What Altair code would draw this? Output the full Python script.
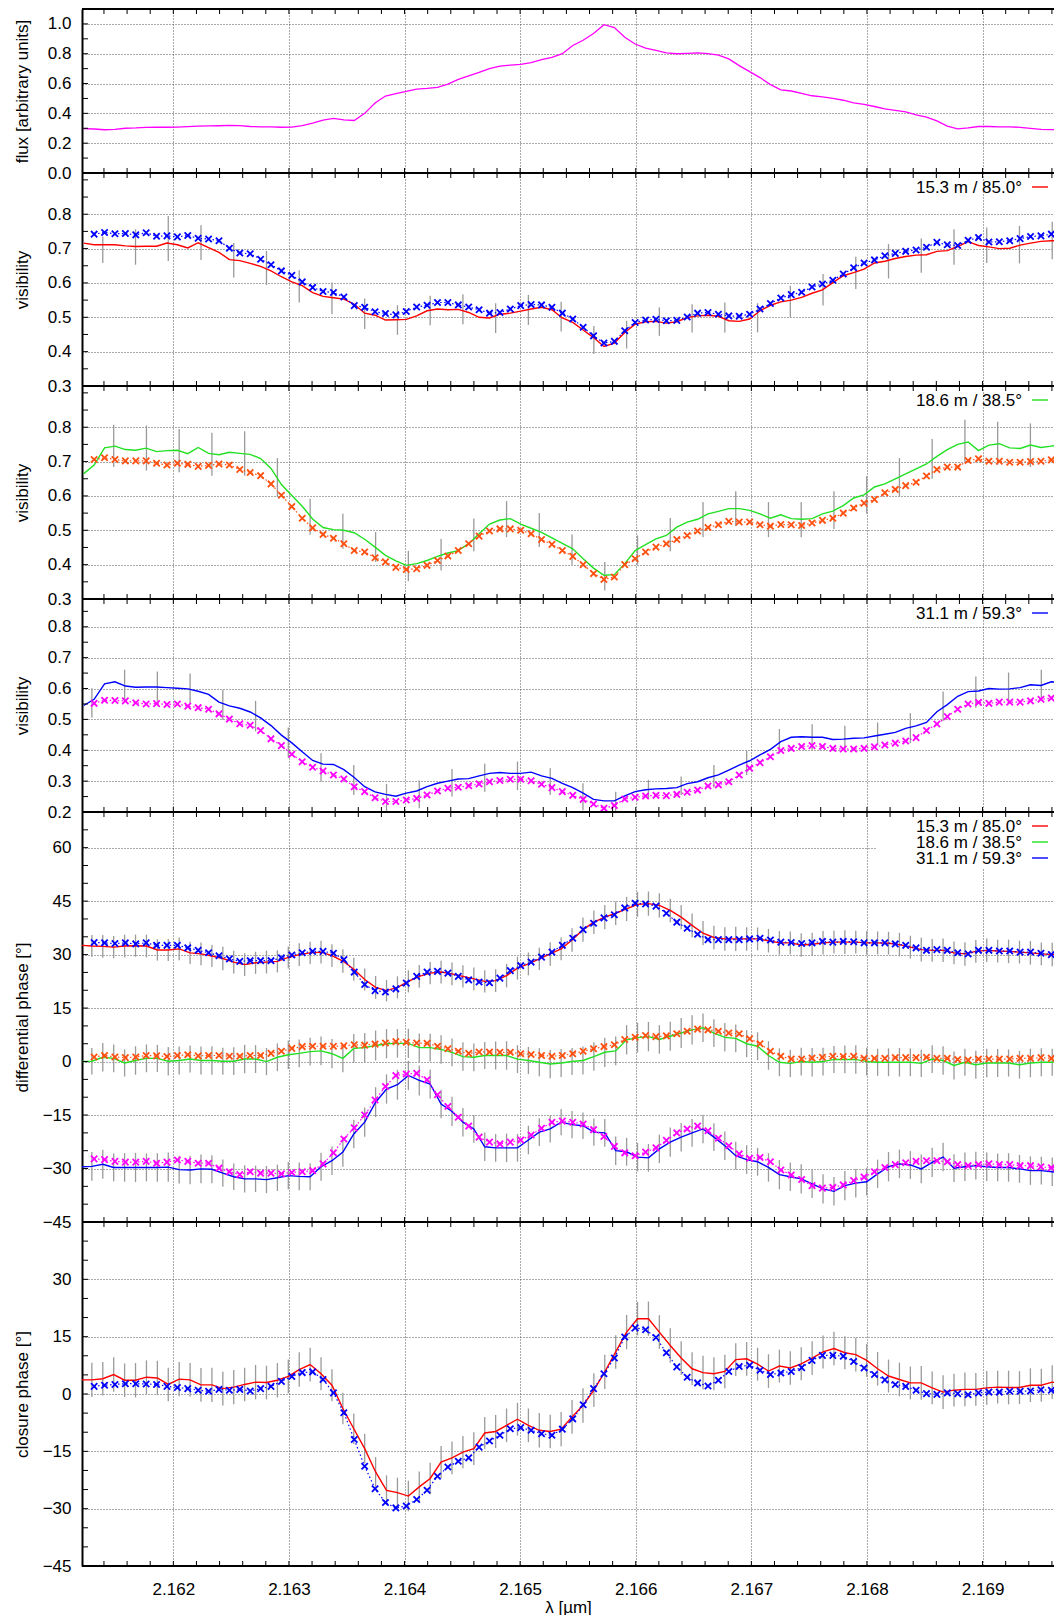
import altair as alt
import pandas as pd

FONT = "Liberation Sans"
W = 972
XDOM = [2.16121, 2.169618]
HEIGHTS = [164, 213, 213, 213, 410, 344]

RED = "#ff0000"
BLUE = "#0000ff"
GREEN = "#22e022"
ORANGE = "#ff5010"
MAGENTA = "#ff00ff"
GRAY = "#9a9a9a"
CROSS = "M-1,-1L1,1M-1,1L1,-1"

# ---------------- wavelength grids (µm) ----------------
lam_model = [round(2.161315 + 0.00009 * i, 6) for i in range(94)]      # model (crosses)
lam_line = [2.161225] + lam_model                                        # spectrum / visibility lines
lam_obs = [round(2.161201 + 0.0000944 * j, 7) for j in range(91)]       # observed phases

x_major = [2.162, 2.163, 2.164, 2.165, 2.166, 2.167, 2.168, 2.169]
x_minor = [round(2.1614 + 0.0002 * k, 4) for k in range(42)]

# ---------------- flux ----------------
flux = [0.298,
        0.295, 0.29, 0.292, 0.30, 0.302, 0.306, 0.307, 0.307, 0.308, 0.311, 0.315, 0.316, 0.317, 0.319, 0.318,
        0.312, 0.31, 0.309, 0.307, 0.308, 0.318, 0.335, 0.355, 0.366, 0.357, 0.352, 0.40, 0.47, 0.516, 0.533,
        0.548, 0.563, 0.567, 0.575, 0.596, 0.628, 0.652, 0.675, 0.70, 0.717, 0.724, 0.728, 0.74, 0.76, 0.775,
        0.80, 0.855, 0.89, 0.935, 0.995, 0.975, 0.91, 0.865, 0.838, 0.822, 0.806, 0.80, 0.803, 0.806, 0.80,
        0.79, 0.765, 0.72, 0.68, 0.64, 0.593, 0.558, 0.55, 0.534, 0.518, 0.511, 0.50, 0.488, 0.47, 0.46,
        0.446, 0.43, 0.42, 0.41, 0.39, 0.375, 0.35, 0.315, 0.296, 0.302, 0.312, 0.312, 0.31, 0.31, 0.306,
        0.30, 0.292, 0.291, 0.291]

# ---------------- visibility 15.3 m / 85.0° ----------------
vis1_obs = [0.716,
            0.711, 0.711, 0.711, 0.708, 0.706, 0.707, 0.707, 0.716, 0.711, 0.702, 0.717, 0.703, 0.689, 0.668, 0.665,
            0.657, 0.648, 0.635, 0.618, 0.603, 0.592, 0.572, 0.561, 0.557, 0.553, 0.538, 0.512, 0.506, 0.492, 0.493,
            0.494, 0.504, 0.519, 0.524, 0.522, 0.523, 0.514, 0.50, 0.498, 0.509, 0.512, 0.518, 0.524, 0.529, 0.522,
            0.498, 0.485, 0.463, 0.441, 0.415, 0.425, 0.456, 0.480, 0.487, 0.488, 0.483, 0.487, 0.499, 0.504, 0.506,
            0.503, 0.490, 0.488, 0.495, 0.519, 0.535, 0.545, 0.550, 0.558, 0.570, 0.580, 0.601, 0.621, 0.630, 0.640,
            0.658, 0.663, 0.671, 0.677, 0.681, 0.682, 0.692, 0.694, 0.706, 0.720, 0.709, 0.705, 0.700, 0.701, 0.710,
            0.716, 0.721, 0.723, 0.722]
vis1_mod = [0.742, 0.747, 0.743, 0.744, 0.740, 0.746, 0.736, 0.737, 0.734, 0.738, 0.730, 0.728, 0.723, 0.701, 0.687,
            0.685, 0.669, 0.653, 0.635, 0.622, 0.603, 0.587, 0.575, 0.572, 0.559, 0.534, 0.529, 0.516, 0.511, 0.507,
            0.517, 0.530, 0.535, 0.543, 0.543, 0.536, 0.530, 0.522, 0.512, 0.514, 0.524, 0.534, 0.537, 0.536, 0.529,
            0.512, 0.495, 0.471, 0.446, 0.425, 0.430, 0.461, 0.485, 0.492, 0.494, 0.490, 0.491, 0.501, 0.512, 0.514,
            0.509, 0.504, 0.503, 0.509, 0.524, 0.540, 0.556, 0.566, 0.573, 0.588, 0.597, 0.608, 0.626, 0.644, 0.658,
            0.667, 0.679, 0.686, 0.692, 0.696, 0.704, 0.718, 0.711, 0.709, 0.724, 0.732, 0.719, 0.720, 0.723, 0.729,
            0.735, 0.737, 0.742, 0.740]
vis1_lo = [0.658, 0.653, 0.664, 0.667, 0.616, 0.594, 0.543, 0.509, 0.466, 0.449, 0.477, 0.480, 0.454, 0.478, 0.459,
           0.393, 0.409, 0.446, 0.456, 0.456, 0.456, 0.500, 0.534, 0.582, 0.613, 0.630, 0.653, 0.658, 0.657, 0.669]
vis1_hi = [0.735, 0.756, 0.795, 0.768, 0.716, 0.693, 0.637, 0.601, 0.555, 0.535, 0.563, 0.567, 0.541, 0.565, 0.545,
           0.475, 0.490, 0.529, 0.538, 0.543, 0.541, 0.592, 0.626, 0.676, 0.713, 0.729, 0.756, 0.761, 0.766, 0.778]

# ---------------- visibility 18.6 m / 38.5° ----------------
vis2_obs = [0.665,
            0.69, 0.74, 0.745, 0.735, 0.733, 0.739, 0.729, 0.732, 0.733, 0.723, 0.741, 0.724, 0.720, 0.727, 0.724,
            0.721, 0.709, 0.680, 0.633, 0.601, 0.570, 0.533, 0.508, 0.502, 0.50, 0.493, 0.474, 0.451, 0.427, 0.411,
            0.398, 0.403, 0.412, 0.424, 0.434, 0.441, 0.461, 0.49, 0.518, 0.530, 0.534, 0.518, 0.506, 0.494, 0.478,
            0.462, 0.446, 0.417, 0.390, 0.369, 0.371, 0.403, 0.441, 0.458, 0.475, 0.485, 0.509, 0.524, 0.532, 0.548,
            0.555, 0.563, 0.563, 0.558, 0.548, 0.535, 0.545, 0.534, 0.532, 0.534, 0.548, 0.556, 0.572, 0.594, 0.603,
            0.626, 0.635, 0.650, 0.664, 0.679, 0.693, 0.715, 0.735, 0.750, 0.757, 0.732, 0.748, 0.752, 0.740, 0.738,
            0.748, 0.741, 0.745, 0.749]
vis2_mod = [0.706, 0.711, 0.706, 0.702, 0.702, 0.702, 0.695, 0.690, 0.695, 0.692, 0.686, 0.689, 0.693, 0.690, 0.677,
            0.668, 0.659, 0.635, 0.602, 0.569, 0.535, 0.507, 0.488, 0.477, 0.461, 0.441, 0.437, 0.420, 0.408, 0.392,
            0.386, 0.388, 0.398, 0.412, 0.425, 0.441, 0.461, 0.483, 0.498, 0.504, 0.504, 0.50, 0.49, 0.473, 0.459,
            0.441, 0.424, 0.40, 0.374, 0.357, 0.364, 0.40, 0.417, 0.437, 0.451, 0.461, 0.473, 0.485, 0.498, 0.508,
            0.516, 0.526, 0.524, 0.524, 0.516, 0.512, 0.517, 0.516, 0.514, 0.521, 0.529, 0.535, 0.550, 0.565, 0.579,
            0.590, 0.609, 0.619, 0.630, 0.640, 0.658, 0.677, 0.684, 0.684, 0.703, 0.708, 0.701, 0.701, 0.698, 0.698,
            0.70, 0.701, 0.705, 0.703]
vis2_lo = [0.684, 0.674, 0.669, 0.659, 0.659, 0.597, 0.487, 0.446, 0.408, 0.352, 0.383, 0.439, 0.480, 0.451, 0.40,
           0.325, 0.40, 0.439, 0.480, 0.512, 0.480, 0.480, 0.504, 0.548, 0.597, 0.650, 0.698, 0.691, 0.684, 0.689]
vis2_hi = [0.807, 0.805, 0.795, 0.784, 0.788, 0.710, 0.592, 0.548, 0.495, 0.440, 0.475, 0.534, 0.585, 0.550, 0.488,
           0.408, 0.485, 0.536, 0.582, 0.614, 0.582, 0.582, 0.614, 0.657, 0.710, 0.766, 0.822, 0.816, 0.811, 0.811]

# ---------------- visibility 31.1 m / 59.3° ----------------
vis3_obs = [0.545,
            0.565, 0.615, 0.622, 0.608, 0.604, 0.605, 0.605, 0.603, 0.601, 0.599, 0.591, 0.581, 0.556, 0.544, 0.536,
            0.524, 0.505, 0.480, 0.449, 0.424, 0.395, 0.367, 0.355, 0.354, 0.337, 0.312, 0.282, 0.265, 0.257, 0.251,
            0.261, 0.268, 0.282, 0.293, 0.30, 0.307, 0.308, 0.317, 0.325, 0.328, 0.325, 0.325, 0.329, 0.317, 0.309,
            0.293, 0.279, 0.261, 0.241, 0.236, 0.236, 0.252, 0.266, 0.272, 0.275, 0.276, 0.279, 0.292, 0.298, 0.311,
            0.320, 0.336, 0.352, 0.366, 0.385, 0.403, 0.428, 0.442, 0.444, 0.442, 0.442, 0.435, 0.436, 0.439, 0.440,
            0.446, 0.452, 0.458, 0.471, 0.479, 0.490, 0.525, 0.548, 0.575, 0.590, 0.592, 0.600, 0.598, 0.599, 0.603,
            0.612, 0.610, 0.622, 0.618]
vis3_mod = [0.552, 0.562, 0.561, 0.560, 0.554, 0.550, 0.551, 0.548, 0.550, 0.543, 0.538, 0.533, 0.518, 0.501, 0.486,
            0.481, 0.464, 0.437, 0.415, 0.387, 0.363, 0.345, 0.333, 0.320, 0.307, 0.282, 0.266, 0.246, 0.234, 0.234,
            0.239, 0.244, 0.255, 0.268, 0.277, 0.280, 0.285, 0.291, 0.298, 0.302, 0.306, 0.306, 0.301, 0.290, 0.279,
            0.266, 0.254, 0.241, 0.226, 0.212, 0.221, 0.242, 0.248, 0.252, 0.254, 0.253, 0.257, 0.264, 0.271, 0.284,
            0.288, 0.298, 0.320, 0.342, 0.360, 0.379, 0.399, 0.406, 0.412, 0.415, 0.412, 0.406, 0.404, 0.404, 0.406,
            0.411, 0.417, 0.423, 0.430, 0.441, 0.464, 0.485, 0.509, 0.533, 0.550, 0.555, 0.552, 0.556, 0.556, 0.556,
            0.560, 0.565, 0.569, 0.565]
vis3_lo = [0.506, 0.565, 0.558, 0.552, 0.498, 0.461, 0.376, 0.298, 0.255, 0.201, 0.212, 0.250, 0.266, 0.271, 0.255,
           0.206, 0.200, 0.242, 0.255, 0.279, 0.320, 0.390, 0.398, 0.396, 0.417, 0.423, 0.495, 0.538, 0.552, 0.563]
vis3_hi = [0.601, 0.661, 0.655, 0.649, 0.596, 0.560, 0.474, 0.390, 0.352, 0.291, 0.302, 0.339, 0.356, 0.363, 0.342,
           0.293, 0.266, 0.304, 0.315, 0.352, 0.399, 0.469, 0.484, 0.479, 0.490, 0.520, 0.590, 0.639, 0.652, 0.661]

# ---------------- differential phases ----------------
dp1_obs = [32.6, 32.4, 32.3, 32.1, 32.4, 32.5, 32.4, 31.3, 31.3, 31.6, 30.5, 30.2, 29.6, 28.9, 27.9, 27.2, 27.7,
           27.9, 28.1, 29.2, 30.0, 30.5, 30.7, 29.7, 28.2, 25.9, 23.0, 20.8, 19.9, 20.8, 22.5, 23.9, 24.8, 25.1,
           24.6, 23.9, 23.2, 22.5, 22.7, 24.1, 26.2, 27.4, 28.8, 30.2, 31.6,
           34.1, 37.0, 39.1, 40.5, 41.6, 42.8, 44.1, 44.3, 43.8, 42.4, 40.5, 38.2, 36.0, 34.8, 34.4, 34.4, 34.4,
           34.4, 33.9, 33.3, 33.3, 32.7, 32.9, 33.3, 33.5, 33.5, 33.5, 33.3, 33.3, 33.2, 32.8, 32.1, 31.4, 31.2,
           31.2, 30.5, 30.2, 30.9, 31.2, 31.0, 30.9, 30.7, 30.5, 30.2, 30.0, 29.9]
dp1_err = [3.1, 3.2, 3.1, 3.2, 3.1, 3.2, 3.0, 3.1, 3.2, 3.1, 3.2, 3.1, 3.3, 3.2, 3.2, 3.1, 3.2, 3.1, 3.1, 3.2,
           3.1, 3.2, 3.2, 3.3, 3.2, 3.1, 3.2, 3.0, 3.1, 3.1, 3.2, 3.1, 3.2, 3.2, 3.1, 3.2, 3.1, 3.2, 3.3, 3.2,
           3.2, 3.1, 3.3, 3.2, 3.3, 3.4, 3.3, 3.4, 3.3, 3.4, 3.5, 3.4, 3.4, 3.3, 3.4, 3.3, 3.4, 3.3, 3.3, 3.4,
           3.3, 3.2, 3.3, 3.3, 3.2, 3.3, 3.2, 3.3, 3.2, 3.3, 3.2, 3.3, 3.2, 3.2, 3.3, 3.2, 3.3, 3.2, 3.3, 3.2,
           3.3, 3.2, 3.3, 3.2, 3.3, 3.2, 3.3, 3.2, 3.3, 3.2]
dp1_mod = [33.4, 33.3, 33.1, 33.3, 33.0, 33.3, 32.6, 32.6, 32.6, 31.9, 31.2, 30.5, 29.7, 28.8, 28.1, 28.3, 28.3,
           28.3, 29.1, 29.9, 30.5, 30.9, 30.9, 30.4, 28.6, 25.1, 21.6, 19.9, 19.5, 20.4, 22.0, 23.9, 25.1, 25.3,
           24.8, 23.9, 22.9, 22.3, 22.1, 23.4, 25.5, 26.9, 27.9, 29.3, 30.7,
           32.6, 34.6, 37.0, 38.8, 40.3, 41.2, 43.1, 44.4, 44.2, 43.6, 41.6, 39.1, 37.4, 35.7, 34.2, 34.2, 34.2,
           34.2, 34.4, 34.6, 34.1, 33.5, 33.4, 33.1, 33.3, 33.7, 33.5, 33.7, 33.6, 33.3, 33.3, 33.3, 33.0, 32.6,
           31.9, 31.2, 31.4, 31.2, 30.5, 30.2, 31.2, 31.2, 31.0, 31.0, 30.7, 30.7, 30.4, 30.0, 30.0]

dp2_obs = [0.0, 0.1, 1.2, 0.9, -0.4, 0.3, 0.9, 0.9, 0.1, 0.3, 0.7, 0.3, 0.3, 0.1, 0.1, 0.7, 0.7, 0.0, 1.2, 1.9,
           2.3, 2.8, 3.0, 2.2, 0.9, 3.7, 3.9, 4.5, 5.0, 5.1, 5.1, 3.9, 3.9, 3.4, 2.6, 1.4, 1.2, 1.7, 1.7, 1.7,
           0.7, 0.3, -0.2, -0.7, -0.4,
           0.0, 0.3, 1.4, 2.6, 3.0, 6.1, 6.7, 7.0, 6.2, 7.1, 8.0, 8.9, 9.5, 8.0, 6.8, 6.5, 5.0, 4.3, 1.7, -0.2,
           -0.5, 0.0, -0.2, 0.0, 0.6, 0.6, 0.6, 0.0, -0.2, -0.2, -0.2, -0.2, -0.5, 0.7, 0.3, -1.1, -0.2, -0.9,
           -0.4, -0.4, -0.4, -0.9, -0.4, -0.2, -0.2, 0.0]
dp2_err = [3.7, 4.0, 3.9, 3.8, 4.0, 3.9, 3.8, 4.0, 3.9, 3.8, 3.9, 4.0, 3.8, 3.9, 4.0, 3.9, 3.8, 3.9, 4.0, 3.9,
           3.9, 4.0, 4.1, 3.9, 4.0, 4.1, 4.2, 4.1, 4.0, 4.1, 4.0, 3.9, 4.0, 3.9, 4.0, 3.9, 3.8, 3.9, 4.0, 3.9,
           3.8, 3.9, 4.0, 3.9, 3.8, 3.9, 4.0, 4.1, 4.0, 4.1, 4.2, 4.1, 4.0, 4.1, 4.2, 4.1, 4.0, 3.9, 4.0, 3.9,
           3.8, 3.9, 4.0, 3.9, 3.8, 3.9, 4.0, 3.9, 3.8, 3.9, 4.0, 3.9, 3.8, 3.9, 4.0, 3.9, 3.8, 3.9, 4.0, 3.9,
           3.8, 3.9, 4.0, 3.9, 3.8, 3.9, 4.0, 3.9, 3.8, 3.9]
dp2_mod = [1.3, 1.7, 1.3, 1.1, 1.3, 1.7, 1.6, 1.4, 1.7, 1.9, 1.6, 1.7, 1.7, 1.5, 1.5, 1.7, 1.7, 2.3, 2.9, 3.7,
           4.2, 4.3, 4.3, 4.3, 4.4, 4.7, 4.6, 4.9, 5.2, 5.6, 5.4, 5.2, 5.1, 4.3, 3.6, 2.9, 2.3, 2.7, 2.7, 2.6,
           2.6, 2.2, 2.0, 1.7, 1.5,
           1.7, 2.2, 2.9, 3.6, 4.2, 4.7, 6.2, 6.8, 7.3, 7.0, 7.2, 7.8, 8.5, 9.1, 8.9, 8.5, 8.0, 7.8, 6.4, 5.0,
           2.9, 1.5, 0.7, 0.7, 1.0, 1.2, 1.5, 1.4, 1.5, 0.9, 0.9, 0.9, 1.1, 1.1, 1.1, 1.2, 0.9, 0.9, 0.6, 0.4,
           0.7, 0.7, 0.7, 0.7, 0.9, 0.9, 1.1, 0.9, 1.1]

dp3_obs = [-29.5, -29.4, -28.8, -29.7, -29.7, -29.7, -29.7, -29.7, -29.6, -30.3, -30.4, -30.1, -30.2, -31.3,
           -32.3, -32.9, -32.9, -33.1, -32.6, -32.0, -32.2, -32.3, -29.5, -27.8, -25.4, -20.3, -17.0, -11.4,
           -7.7, -6.5, -3.9, -5.3, -6.3, -11.9, -14.0, -17.0, -18.9, -23.9, -24.2, -24.2, -24.2, -22.0, -19.8,
           -18.9, -17.0,
           -17.7, -18.0, -19.8, -20.0, -25.0, -25.3, -26.8, -27.0, -24.5, -22.6, -21.2, -20.0, -18.9, -21.2,
           -23.6, -26.4, -27.5, -28.1, -29.7, -31.7, -32.3, -32.9, -34.3, -35.7, -36.4, -34.8, -34.1, -33.7,
           -31.5, -29.5, -28.7, -29.0, -30.1, -28.3, -26.8, -29.9, -29.5, -29.2, -29.5, -29.7, -29.7, -30.1,
           -30.6, -30.6, -30.9, -31.5]
dp3_err = [4.0, 4.1, 3.9, 4.0, 4.1, 3.9, 4.0, 4.1, 3.9, 4.0, 4.0, 3.9, 3.8, 3.7, 3.8, 3.7, 3.8, 3.7, 3.8, 3.9,
           3.8, 3.9, 4.0, 4.1, 4.0, 4.1, 4.2, 4.1, 4.2, 4.1, 4.2, 4.1, 4.0, 4.1, 4.0, 3.9, 4.0, 3.9, 4.0, 3.9,
           4.0, 3.9, 3.8, 3.7, 3.8, 3.7, 3.8, 3.9, 4.0, 3.9, 4.0, 3.9, 4.0, 4.1, 4.0, 3.9, 4.0, 3.9, 4.0, 3.9,
           4.0, 3.9, 4.0, 4.1, 4.0, 4.1, 4.0, 4.1, 4.0, 4.1, 4.0, 3.9, 4.0, 4.1, 4.0, 3.9, 4.0, 4.1, 4.0, 3.9,
           4.0, 3.9, 4.0, 3.9, 4.0, 3.9, 4.0, 3.9, 4.0, 3.9]
dp3_mod = [-27.3, -27.5, -28.0, -28.2, -28.2, -28.0, -28.5, -28.2, -27.6, -28.0, -28.5, -28.5, -29.9, -30.9,
           -31.7, -30.9, -31.3, -31.3, -31.5, -31.1, -30.9, -30.6, -28.7, -25.6, -21.7, -18.6, -15.0, -10.8,
           -7.0, -3.9, -3.5, -3.3, -5.1, -9.3, -12.6, -15.6, -18.1, -21.2, -22.6, -23.1, -22.6, -22.0, -20.6,
           -18.7, -17.0,
           -16.7, -17.0, -17.5, -19.1, -21.0, -23.8, -25.6, -26.4, -25.4, -24.2, -22.1, -20.0, -18.9, -18.1,
           -19.4, -21.5, -23.6, -25.9, -27.1, -26.9, -28.1, -30.4, -31.8, -33.1, -34.8, -35.5, -35.3, -34.6,
           -33.4, -32.4, -30.9, -29.7, -28.9, -28.4, -28.0, -27.8, -27.8, -28.1, -28.9, -29.2, -28.9, -28.7,
           -28.9, -28.9, -29.2, -29.2, -29.5, -29.8, -29.7]

# ---------------- closure phase ----------------
cp_obs = [3.7, 3.7, 4.0, 5.1, 3.6, 3.6, 4.4, 4.2, 2.5, 3.9, 3.7, 2.4, 2.4, 1.4, 1.8, 2.5, 3.1, 3.0, 3.6, 4.6,
          6.4, 7.7, 5.3, 2.3, -3.8, -9.1, -14.3, -20.4, -25.2, -25.8, -26.7, -24.3, -22.1, -17.8, -16.7, -15.2,
          -14.3, -10.2, -9.8, -8.2, -6.6, -8.2, -9.5, -9.8, -9.2,
          -6.0, -3.0, 1.0, 5.8, 11.0, 16.2, 19.7, 19.7, 16.2, 12.7, 9.4, 6.6, 5.6, 5.3, 5.9, 9.0, 9.2, 7.8, 6.0,
          7.3, 6.8, 7.9, 9.4, 11.0, 11.9, 10.8, 10.3, 8.8, 6.6, 4.7, 3.8, 2.9, 2.9, 1.6, 0.5, 1.0, 1.2, 1.2,
          1.6, 1.8, 1.7, 1.7, 2.3, 2.3, 3.1, 2.7]
cp_err = [4.5, 4.4, 4.5, 4.4, 4.5, 4.4, 4.5, 4.4, 4.5, 4.4, 4.4, 4.5, 4.4, 4.5, 4.4, 4.5, 4.4, 4.5, 4.4, 4.5,
          4.4, 4.3, 4.2, 4.1, 4.0, 3.9, 3.9, 3.9, 3.9, 4.0, 4.0, 4.1, 4.2, 4.3, 4.2, 4.3, 4.2, 4.3, 4.4, 4.3,
          4.4, 4.5, 4.4, 4.5, 4.4, 4.5, 4.4, 4.5, 4.4, 4.5, 4.4, 4.5, 4.4, 4.5, 4.4, 4.3, 4.4, 4.3, 4.4, 4.3,
          4.4, 4.3, 4.4, 4.3, 4.4, 4.3, 4.4, 4.3, 4.4, 4.3, 4.4, 4.3, 4.4, 4.3, 4.4, 4.3, 4.4, 4.3, 4.4, 4.3,
          4.4, 4.3, 4.4, 4.3, 4.4, 4.3, 4.4, 4.3, 4.4, 4.3]
cp_mod = [2.0, 2.3, 2.5, 2.7, 2.7, 2.6, 2.5, 2.0, 1.7, 1.4, 1.0, 0.7, 1.2, 1.0, 1.2, 0.8, 1.4, 2.0, 3.3, 4.6,
          5.6, 5.8, 3.8, 0.3, -4.9, -11.9, -18.9, -24.8, -28.4, -29.8, -29.3, -27.6, -25.2, -21.5, -19.1, -17.6,
          -16.7, -13.9, -12.3, -10.8, -9.1, -8.8, -9.5, -10.4, -10.8,
          -9.2, -6.5, -2.8, 1.4, 5.3, 9.4, 14.9, 17.3, 16.8, 14.8, 10.8, 7.1, 4.4, 2.9, 2.1, 3.6, 5.9, 7.2, 7.5,
          6.2, 5.1, 5.5, 5.9, 6.9, 8.8, 10.1, 10.1, 9.9, 8.5, 6.8, 5.1, 3.7, 2.5, 2.0, 1.0, 0.1, -0.1, 0.3, 0.1,
          -0.2, 0.3, 0.5, 0.5, 0.7, 0.7, 0.8, 1.1, 1.0, 0.8]

baselines = ["15.3 m / 85.0°", "18.6 m / 38.5°", "31.1 m / 59.3°"]


# ---------------- helpers ----------------
def one(**kw):
    return pd.DataFrame({k: [v] for k, v in kw.items()})


def build_panel(H, ydom, ylabels, yticks, yfmt, ytitle, content, bottom=False):
    grid = dict(grid=True, gridColor="#444444", gridDash=[1, 2], gridWidth=1, gridOpacity=0.9)
    if bottom:
        xaxis = alt.Axis(values=x_major, format=".3f", ticks=False, tickSize=0, domain=False,
                         labels=True, labelFont=FONT, labelFontSize=17, labelColor="#000", labelPadding=15,
                         title="λ [µm]", titleFont=FONT, titleFontSize=17, titleFontWeight="normal",
                         titleColor="#000", titlePadding=2, **grid)
    else:
        xaxis = alt.Axis(values=x_major, ticks=False, tickSize=0, domain=False, labels=False,
                         title=None, **grid)
    yaxis = alt.Axis(values=ylabels, format=yfmt, ticks=False, tickSize=0, domain=True,
                     domainColor="#000", domainWidth=2, labelFont=FONT, labelFontSize=17,
                     labelColor="#000", labelPadding=11, title=ytitle, titleFont=FONT,
                     titleFontSize=17, titleFontWeight="normal", titleColor="#000",
                     titleX=-60, titleY=H / 2, titleAngle=270, titleAlign="center",
                     titleBaseline="middle", **grid)
    xs = alt.Scale(domain=XDOM, nice=False, zero=False)
    ys = alt.Scale(domain=ydom, nice=False, zero=False)

    def X(f):
        return alt.X(f"{f}:Q", scale=xs, axis=xaxis)

    def Y(f):
        return alt.Y(f"{f}:Q", scale=ys, axis=yaxis)

    layers = []
    layers += content(X, Y, H)
    tx = pd.DataFrame({"t": x_minor})
    layers.append(alt.Chart(tx).mark_rule(color="#000", strokeWidth=1)
                  .encode(x=X("t"), y=alt.value(0), y2=alt.value(5)))
    layers.append(alt.Chart(tx).mark_rule(color="#000", strokeWidth=1)
                  .encode(x=X("t"), y=alt.value(H - 5), y2=alt.value(H)))
    ty = pd.DataFrame({"t": yticks})
    layers.append(alt.Chart(ty).mark_rule(color="#000", strokeWidth=1)
                  .encode(y=Y("t"), x=alt.value(0), x2=alt.value(6)))
    layers.append(alt.Chart(one(a=0)).mark_rule(color="#000", strokeWidth=2)
                  .encode(x=alt.value(0), x2=alt.value(W), y=alt.value(0)))
    layers.append(alt.Chart(one(a=0)).mark_rule(color="#000", strokeWidth=2)
                  .encode(x=alt.value(0), x2=alt.value(W), y=alt.value(H)))
    return alt.layer(*layers).properties(width=W, height=H)


def legend_entry(label, color, y):
    t = alt.Chart(one(label=label)).mark_text(align="right", baseline="middle", font=FONT,
                                                fontSize=17, color="#000").encode(
        x=alt.value(940), y=alt.value(y + 0.5), text="label:N")
    r = alt.Chart(one(label=label)).mark_rule(color=color, strokeWidth=1.4).encode(
        x=alt.value(950), x2=alt.value(966), y=alt.value(y))
    return [t, r]


def data_layers(X, Y, lam_o, obs, lam_e, lo, hi, mod, ocol, mcol):
    d_err = pd.DataFrame({"lam": lam_e, "lo": lo, "hi": hi})
    d_obs = pd.DataFrame({"lam": lam_o, "v": obs})
    d_mod = pd.DataFrame({"lam": lam_model, "v": mod})
    return [
        alt.Chart(d_err).mark_rule(color=GRAY, strokeWidth=1.3, clip=True)
        .encode(x=X("lam"), y=Y("lo"), y2="hi:Q"),
        alt.Chart(d_obs).mark_line(color=ocol, strokeWidth=1.4, clip=True)
        .encode(x=X("lam"), y=Y("v")),
        alt.Chart(d_mod).mark_line(color=mcol, strokeWidth=1.2, strokeDash=[1.5, 2.5], clip=True)
        .encode(x=X("lam"), y=Y("v")),
        alt.Chart(d_mod).mark_point(shape=CROSS, size=40, filled=False, color=mcol, strokeWidth=1.8,
                                    opacity=1, clip=True)
        .encode(x=X("lam"), y=Y("v")),
    ]


# ---------------- panel contents ----------------
def c_flux(X, Y, H):
    d = pd.DataFrame({"lam": lam_line, "f": flux})
    return [alt.Chart(d).mark_line(color=MAGENTA, strokeWidth=1.3, clip=True).encode(x=X("lam"), y=Y("f"))]


def c_vis(obs, mod, lo, hi, start, ocol, mcol, label):
    lam_e = [lam_obs[start + 3 * k] for k in range(30)]

    def f(X, Y, H):
        return data_layers(X, Y, lam_line, obs, lam_e, lo, hi, mod, ocol, mcol) + legend_entry(label, ocol, 14)
    return f


def phase_err(obs, err):
    lo = [round(o - e, 2) for o, e in zip(obs[1:], err)]
    hi = [round(o + e, 2) for o, e in zip(obs[1:], err)]
    return lo, hi


def c_dp(X, Y, H):
    layers = []
    for obs, err, mod, oc, mc in [(dp1_obs, dp1_err, dp1_mod, RED, BLUE),
                                  (dp2_obs, dp2_err, dp2_mod, GREEN, ORANGE),
                                  (dp3_obs, dp3_err, dp3_mod, BLUE, MAGENTA)]:
        lo, hi = phase_err(obs, err)
        layers += data_layers(X, Y, lam_obs, obs, lam_obs[1:], lo, hi, mod, oc, mc)
    layers.append(alt.Chart(one(a=0)).mark_rect(color="#ffffff").encode(
        x=alt.value(794), x2=alt.value(W), y=alt.value(1), y2=alt.value(56)))
    for lab, col, y in zip(baselines, [RED, GREEN, BLUE], [14, 30, 46]):
        layers += legend_entry(lab, col, y)
    return layers


def c_cp(X, Y, H):
    lo, hi = phase_err(cp_obs, cp_err)
    return data_layers(X, Y, lam_obs, cp_obs, lam_obs[1:], lo, hi, cp_mod, RED, BLUE)


vis_ticks = [0.35, 0.4, 0.45, 0.5, 0.55, 0.6, 0.65, 0.7, 0.75, 0.8, 0.85, 0.9]
p1 = build_panel(HEIGHTS[0], [0, 1.1], [0.0, 0.2, 0.4, 0.6, 0.8, 1.0],
                 [0.1, 0.2, 0.3, 0.4, 0.5, 0.6, 0.7, 0.8, 0.9, 1.0], ".1f", "flux [arbitrary units]", c_flux)
p2 = build_panel(HEIGHTS[1], [0.3, 0.92], [0.3, 0.4, 0.5, 0.6, 0.7, 0.8], vis_ticks, ".1f", "visibility",
                 c_vis(vis1_obs, vis1_mod, vis1_lo, vis1_hi, 2, RED, BLUE, baselines[0]))
p3 = build_panel(HEIGHTS[2], [0.3, 0.92], [0.3, 0.4, 0.5, 0.6, 0.7, 0.8], vis_ticks, ".1f", "visibility",
                 c_vis(vis2_obs, vis2_mod, vis2_lo, vis2_hi, 3, GREEN, ORANGE, baselines[1]))
p4 = build_panel(HEIGHTS[3], [0.2, 0.89], [0.2, 0.3, 0.4, 0.5, 0.6, 0.7, 0.8],
                 [0.25, 0.3, 0.35, 0.4, 0.45, 0.5, 0.55, 0.6, 0.65, 0.7, 0.75, 0.8, 0.85], ".1f", "visibility",
                 c_vis(vis3_obs, vis3_mod, vis3_lo, vis3_hi, 1, BLUE, MAGENTA, baselines[2]))
p5 = build_panel(HEIGHTS[4], [-45, 70], [-45, -30, -15, 0, 15, 30, 45, 60],
                 [-40, -35, -30, -25, -20, -15, -10, -5, 0, 5, 10, 15, 20, 25, 30, 35, 40, 45, 50, 55, 60, 65],
                 "d", "differential phase [°]", c_dp)
p6 = build_panel(HEIGHTS[5], [-45, 45], [-45, -30, -15, 0, 15, 30],
                 [-40, -35, -30, -25, -20, -15, -10, -5, 0, 5, 10, 15, 20, 25, 30, 35, 40],
                 "d", "closure phase [°]", c_cp, bottom=True)

chart = (alt.vconcat(p1, p2, p3, p4, p5, p6, spacing=0, bounds="flush")
         .resolve_scale(x="independent", y="independent")
         .properties(padding={"left": 5, "top": 0, "right": 0, "bottom": 0})
         .configure(font=FONT)
         .configure_view(strokeWidth=0))

chart.save("out.html", embed_options={"renderer": "svg", "actions": False})
